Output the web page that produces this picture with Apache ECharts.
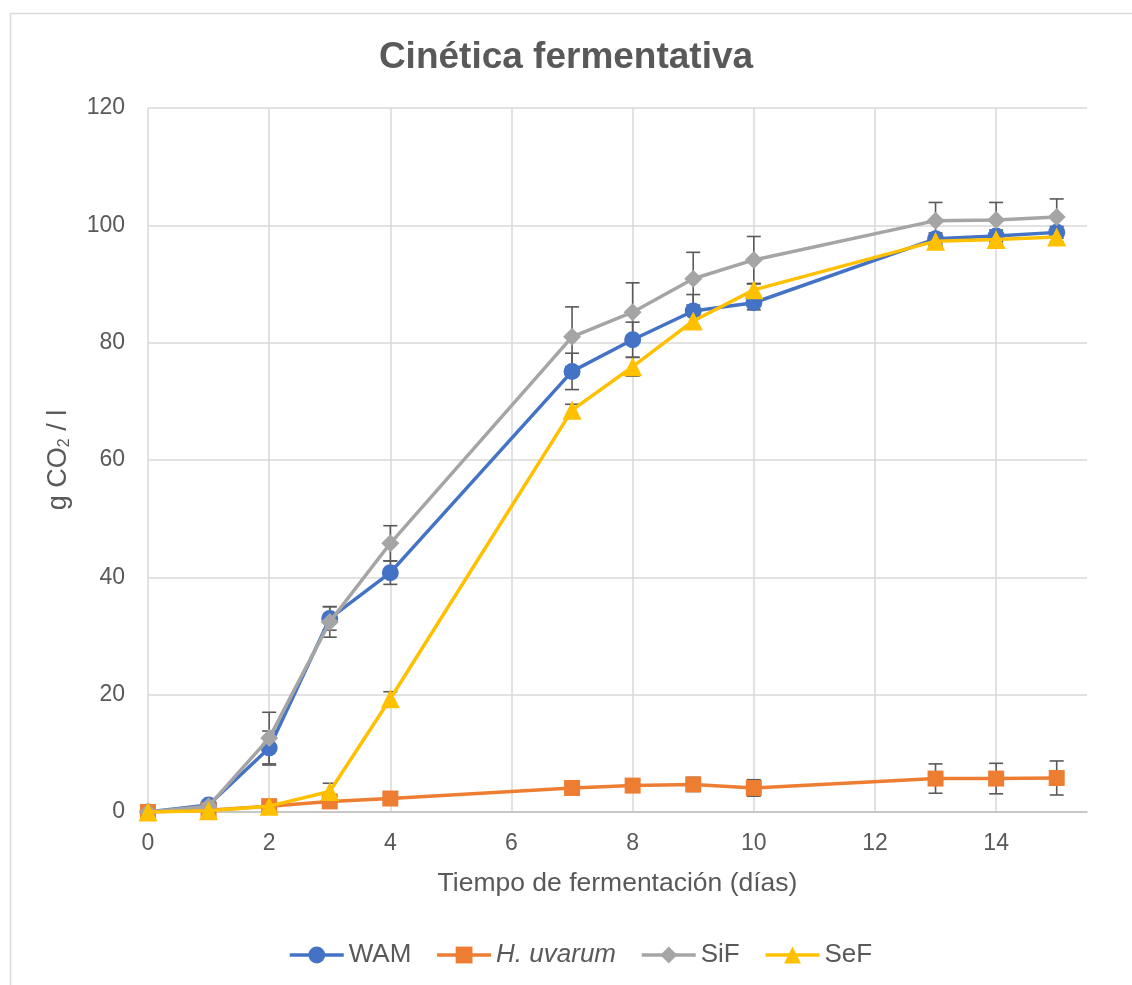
<!DOCTYPE html>
<html>
<head>
<meta charset="utf-8">
<script src="https://cdn.jsdelivr.net/npm/echarts@6/dist/echarts.min.js"></script>
<style>html,body{margin:0;padding:0;background:#fff;}#c{width:1132px;height:985px;}</style>
</head>
<body>
<div id="c"></div>
<script>
var days = [0, 1, 2, 3, 4, 7, 8, 9, 10, 13, 14, 15];
var wam = [0, 1.2, 10.9, 33.0, 40.8, 75.1, 80.5, 85.4, 86.8, 97.7, 98.2, 98.8];
var hUvarum = [0, 0.3, 1.0, 1.8, 2.3, 4.1, 4.5, 4.7, 4.1, 5.7, 5.7, 5.8];
var sif = [0, 1.0, 12.6, 32.4, 45.8, 81.0, 85.2, 90.9, 94.1, 100.8, 100.9, 101.4];
var sef = [0, 0.2, 1.0, 3.5, 19.3, 68.5, 75.9, 83.7, 89.0, 97.3, 97.6, 98.0];
var wamErr = [0, 0.3, 2.9, 2.0, 2.0, 3.1, 3.0, 2.8, 1.2, 1.0, 1.0, 1.0];
var hUvarumErr = [0, 0.2, 0.3, 0.4, 0.5, 0.8, 1.0, 1.2, 1.4, 2.5, 2.6, 2.9];
var sifErr = [0, 0.5, 4.4, 2.6, 3.0, 5.1, 5.0, 4.5, 4.0, 3.1, 3.0, 3.1];
var sefErr = [0, 0.2, 0.3, 1.4, 1.2, 1.0, 1.6, 1.0, 1.0, 0.8, 0.8, 0.8];
var names = ['WAM', 'H. uvarum', 'SiF', 'SeF'];
var colors = ['#4472C4', '#ED7D31', '#A5A5A5', '#FFC000'];
var symbols = ['circle', 'rect', 'diamond', 'triangle'];
var symbolSizes = [17, 16, 18, 19];
var values = [wam, hUvarum, sif, sef];
var errs = [wamErr, hUvarumErr, sifErr, sefErr];

var FONT = '"Liberation Sans", Arial, sans-serif';
var TXT = '#595959';

function pairs(v) { return days.map(function (d, i) { return [d, v[i]]; }); }
function errData(v, e) { return days.map(function (d, i) { return [d, v[i], e[i]]; }); }

function renderErr(params, api) {
  var x = api.value(0), y = api.value(1), e = api.value(2);
  if (!e) return null;
  var top = api.coord([x, y + e]);
  var bot = api.coord([x, y - e]);
  var cap = 7;
  var st = { stroke: '#595959', lineWidth: 1.6 };
  return {
    type: 'group',
    children: [
      { type: 'line', shape: { x1: top[0], y1: top[1], x2: bot[0], y2: bot[1] }, style: st },
      { type: 'line', shape: { x1: top[0] - cap, y1: top[1], x2: top[0] + cap, y2: top[1] }, style: st },
      { type: 'line', shape: { x1: bot[0] - cap, y1: bot[1], x2: bot[0] + cap, y2: bot[1] }, style: st }
    ]
  };
}

var series = [];
names.forEach(function (n, k) {
  series.push({
    type: 'custom',
    name: n + '_err',
    renderItem: renderErr,
    data: errData(values[k], errs[k]),
    encode: { x: 0, y: 1 },
    z: 1,
    silent: true,
    tooltip: { show: false }
  });
});
names.forEach(function (n, k) {
  series.push({
    type: 'line',
    name: n,
    data: pairs(values[k]),
    symbol: symbols[k],
    symbolSize: symbolSizes[k],
    showAllSymbol: true,
    lineStyle: { color: colors[k], width: 3.5 },
    itemStyle: { color: colors[k], borderWidth: 0 },
    z: 3 + k,
    animation: false
  });
});

var chart = echarts.init(document.getElementById('c'));
chart.setOption({
  animation: false,
  backgroundColor: '#fff',
  graphic: [{
    type: 'rect', left: 8, top: 11, silent: true,
    shape: { x: 0, y: 0, width: 1200, height: 1100 },
    style: { fill: 'none', stroke: '#d9d9d9', lineWidth: 1.5 },
    z: 0
  }],
  title: {
    text: 'Cinética fermentativa',
    left: 'center', top: 34,
    textStyle: { fontFamily: FONT, fontSize: 37, fontWeight: 'bold', color: TXT }
  },
  legend: {
    data: names,
    bottom: 12,
    left: 283,
    itemWidth: 54, itemHeight: 21, itemGap: 24,
    lineStyle: { width: 3.5 },
    textStyle: {
      fontFamily: FONT, fontSize: 26, color: TXT, padding: [0, 0, 0, 0],
      rich: { i: { fontFamily: FONT, fontSize: 26, color: TXT, fontStyle: 'italic' } }
    },
    formatter: function (n) { return n === 'H. uvarum' ? '{i|H. uvarum}' : n; }
  },
  grid: { left: 148, right: 45, top: 108, bottom: 173, containLabel: false },
  xAxis: {
    type: 'value', min: 0, max: 15.5, interval: 2,
    name: 'Tiempo de fermentación (días)',
    nameLocation: 'middle', nameGap: 58,
    nameTextStyle: { fontFamily: FONT, fontSize: 26.5, color: TXT },
    axisLine: { show: true, lineStyle: { color: '#bfbfbf', width: 1.5 } },
    axisTick: { show: false },
    axisLabel: {
      margin: 20, fontFamily: FONT, fontSize: 23, color: TXT,
      showMaxLabel: false,
      formatter: function (v) { return v % 2 === 0 ? String(v) : ''; }
    },
    splitLine: { show: true, showMinLine: true, showMaxLine: false, lineStyle: { color: '#d9d9d9', width: 1.5 } }
  },
  yAxis: {
    type: 'value', min: 0, max: 120, interval: 20,
    name: 'g CO{s|2} / l',
    nameLocation: 'middle', nameGap: 75, nameRotate: 90,
    nameTextStyle: {
      fontFamily: FONT, fontSize: 27, color: TXT,
      rich: { s: { fontFamily: FONT, fontSize: 16, color: TXT, verticalAlign: 'bottom', padding: [13, 0, 0, 0] } }
    },
    axisLine: { show: false },
    axisTick: { show: false },
    axisLabel: { margin: 23, fontFamily: FONT, fontSize: 23, color: TXT },
    splitLine: { show: true, lineStyle: { color: '#d9d9d9', width: 1.5 } }
  },
  series: series
});
</script>
</body>
</html>
